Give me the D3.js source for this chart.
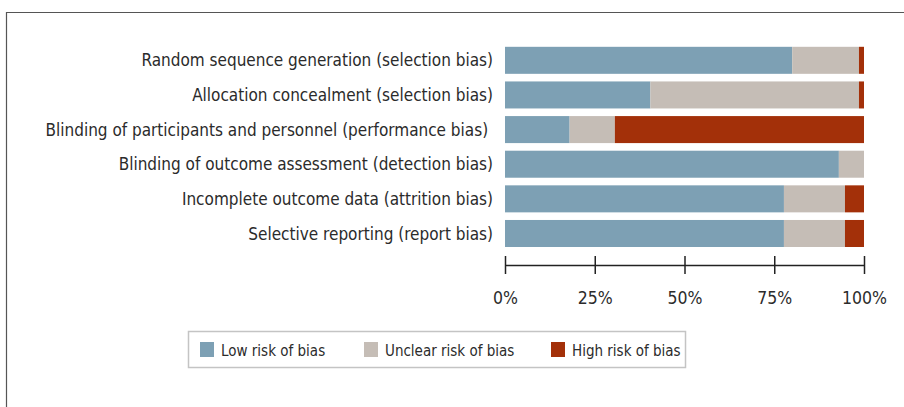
<!DOCTYPE html>
<html>
<head>
<meta charset="utf-8">
<script src="https://cdn.jsdelivr.net/npm/d3@7"></script>
<style>
  body { margin: 0; background: #fff; }
  text { font-family: "DejaVu Sans Condensed", "DejaVu Sans", sans-serif; fill: #2b2b2b; }
</style>
</head>
<body>
<script>
const w = 904;
const h = 407;

const domains = [
  "Random sequence generation (selection bias)",
  "Allocation concealment (selection bias)",
  "Blinding of participants and personnel (performance bias) ",
  "Blinding of outcome assessment (detection bias)",
  "Incomplete outcome data (attrition bias)",
  "Selective reporting (report bias)"
];
const lowRisk = [80, 40.5, 18, 93, 77.7, 77.7];
const unclearRisk = [18.6, 58.1, 12.6, 7, 17, 17];
const highRisk = [1.4, 1.4, 69.4, 0, 5.3, 5.3];

const seriesNames = ["Low risk of bias", "Unclear risk of bias", "High risk of bias"];
const seriesColors = ["#7da0b4", "#c5bdb6", "#a33009"];
const tickValues = [0, 25, 50, 75, 100];

const svg = d3
  .select("body")
  .append("svg")
  .attr("width", w)
  .attr("height", h);

// outer frame (only top and left edges visible)
svg
  .append("path")
  .attr("d", "M6.5," + h + "V12.5H" + w)
  .attr("fill", "none")
  .attr("stroke", "#555")
  .attr("stroke-width", 1.2);

const xScale = d3.scaleLinear().domain([0, 100]).range([505, 864]);
const yScale = d3
  .scaleBand()
  .domain(domains)
  .range([43, 250.8])
  .paddingInner(0.22)
  .paddingOuter(0.11);

// stack the three risk series
const rows = domains.map((d, i) => ({
  name: d,
  low: lowRisk[i],
  unclear: unclearRisk[i],
  high: highRisk[i]
}));
const stack = d3.stack().keys(["low", "unclear", "high"]);
const stacked = stack(rows);

svg
  .append("g")
  .selectAll("g")
  .data(stacked)
  .enter()
  .append("g")
  .attr("fill", (d, i) => seriesColors[i])
  .selectAll("rect")
  .data(d => d)
  .enter()
  .append("rect")
  .attr("x", d => xScale(d[0]))
  .attr("y", d => yScale(d.data.name))
  .attr("width", d => xScale(d[1]) - xScale(d[0]))
  .attr("height", yScale.bandwidth());

// category labels
svg
  .append("g")
  .selectAll("text")
  .data(domains)
  .enter()
  .append("text")
  .attr("x", 493)
  .attr("y", d => yScale(d) + yScale.bandwidth() / 2)
  .attr("dy", "0.36em")
  .attr("text-anchor", "end")
  .style("font-size", "17px")
  .style("white-space", "pre")
  .text(d => d);

// x axis
const xAxis = d3
  .axisBottom(xScale)
  .tickValues(tickValues)
  .tickFormat(d => d + "%")
  .tickSize(9)
  .tickSizeOuter(0);

const axisG = svg
  .append("g")
  .attr("transform", "translate(0,265)")
  .call(xAxis);

axisG.select(".domain").attr("stroke", "#222").attr("stroke-width", 1.5);
axisG
  .selectAll(".tick line")
  .attr("y1", -9)
  .attr("y2", 9)
  .attr("stroke", "#222")
  .attr("stroke-width", 1.5);
axisG
  .selectAll(".tick text")
  .attr("y", 27)
  .attr("fill", "#2b2b2b")
  .style("font-size", "17.5px")
  .style("font-family", "'DejaVu Sans Condensed', 'DejaVu Sans', sans-serif");

// legend
const legend = svg.append("g").attr("id", "legend");

legend
  .append("rect")
  .attr("x", 188.5)
  .attr("y", 331.5)
  .attr("width", 497)
  .attr("height", 36)
  .attr("fill", "#fff")
  .attr("stroke", "#c4c4c4")
  .attr("stroke-width", 1.5);

const legendX = [200, 364, 551];

legend
  .selectAll(".swatch")
  .data(seriesNames)
  .enter()
  .append("rect")
  .attr("class", "swatch")
  .attr("x", (d, i) => legendX[i])
  .attr("y", 342)
  .attr("width", 14)
  .attr("height", 15)
  .attr("fill", (d, i) => seriesColors[i]);

legend
  .selectAll(".label")
  .data(seriesNames)
  .enter()
  .append("text")
  .attr("class", "label")
  .attr("x", (d, i) => legendX[i] + 21)
  .attr("y", 355.5)
  .style("font-size", "15px")
  .text(d => d);
</script>
</body>
</html>
